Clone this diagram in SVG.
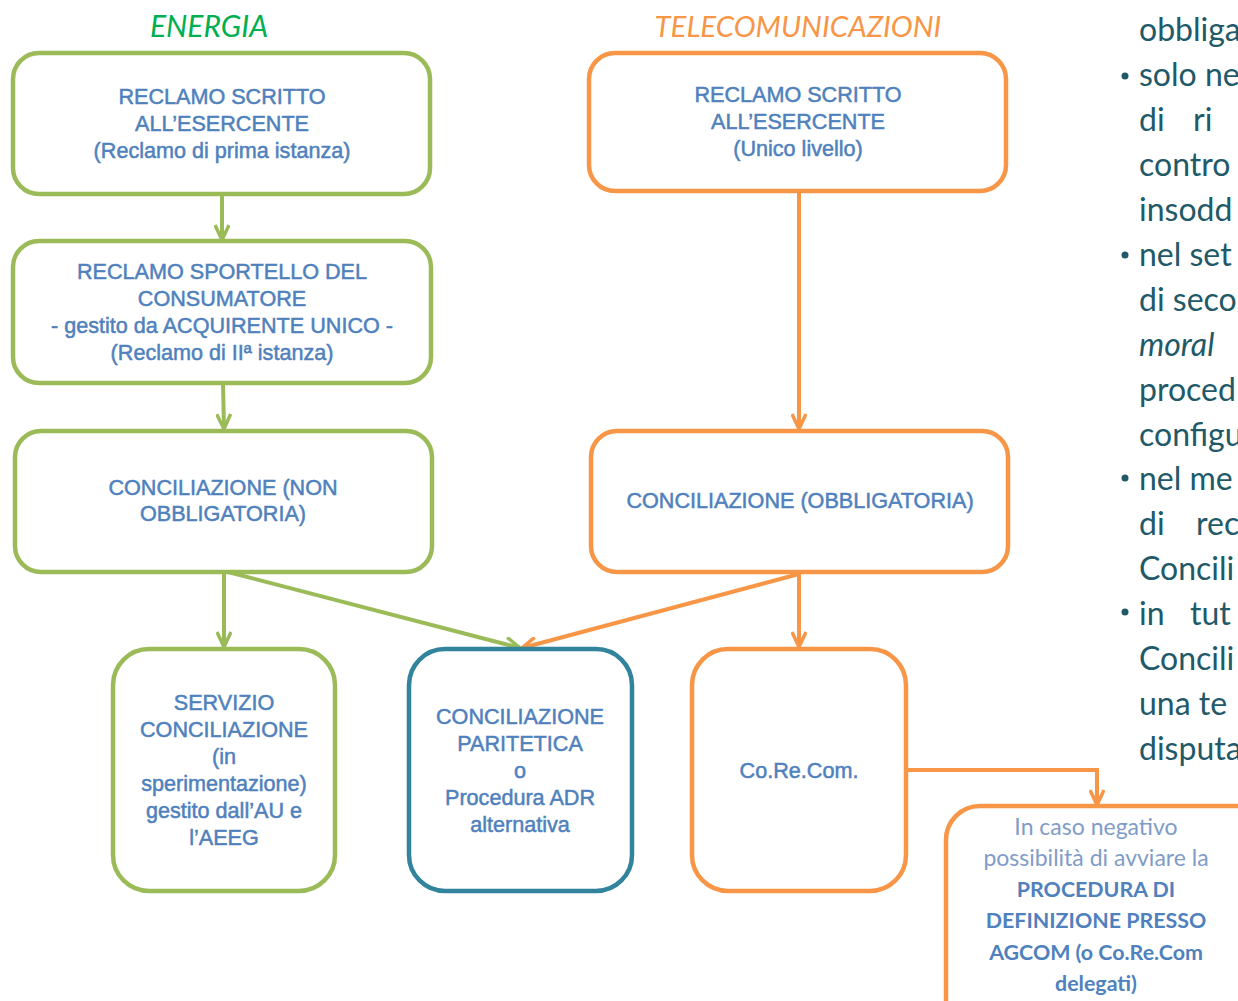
<svg xmlns="http://www.w3.org/2000/svg" width="1238" height="1001" viewBox="0 0 1238 1001">
<defs>
<style>
.g{fill:#fff;stroke:#9BBB59;stroke-width:4.5}
.o{fill:#fff;stroke:#F79646;stroke-width:4.5}
.t{fill:#fff;stroke:#31849B;stroke-width:4.5}
.bt{font-family:"Liberation Sans",Arial,sans-serif;font-size:21.6px;fill:#4F81BD;stroke:#4F81BD;stroke-width:0.5;text-anchor:middle}
.cg{stroke:#9BBB59;stroke-width:4;fill:none}
.co{stroke:#F79646;stroke-width:4;fill:none}
.side{font-family:Lato,"Open Sans",sans-serif;font-size:32px;fill:#215968}
.cal{font-family:Lato,"Open Sans",sans-serif;text-anchor:middle}
</style>
<marker id="ag" viewBox="0 0 20 16" refX="18" refY="8" markerWidth="20" markerHeight="16" markerUnits="userSpaceOnUse" orient="auto">
<path d="M3,1 L18,8 L3,15" fill="none" stroke="#9BBB59" stroke-width="3.5"/>
</marker>
<marker id="ao" viewBox="0 0 20 16" refX="18" refY="8" markerWidth="20" markerHeight="16" markerUnits="userSpaceOnUse" orient="auto">
<path d="M3,1 L18,8 L3,15" fill="none" stroke="#F79646" stroke-width="3.5"/>
</marker>
</defs>
<rect width="1238" height="1001" fill="#fff"/>

<text x="209" y="37" font-family="Lato,'Open Sans',sans-serif" font-style="italic" font-size="30" fill="#00B050" text-anchor="middle">ENERGIA</text>
<text x="798" y="37" font-family="Lato,'Open Sans',sans-serif" font-style="italic" font-size="29.4" fill="#F79646" text-anchor="middle">TELECOMUNICAZIONI</text>

<g id="connectors">
<path class="cg" d="M222,194 L222,240" marker-end="url(#ag)"/>
<path class="cg" d="M223,383 L224,429" marker-end="url(#ag)"/>
<path class="cg" d="M224,572 L224,647" marker-end="url(#ag)"/>
<path class="cg" d="M228,572 L520,648" marker-end="url(#ag)"/>
<path class="co" d="M799,191 L799,429" marker-end="url(#ao)"/>
<path class="co" d="M799,574 L522,648" marker-end="url(#ao)"/>
<path class="co" d="M799,574 L799,647" marker-end="url(#ao)"/>
<path class="co" d="M906,770 L1097,770 L1097,805" marker-end="url(#ao)"/>
</g>

<g id="e1">
<rect class="g" x="13" y="53" width="417" height="141" rx="26"/>
<text class="bt" x="222" y="104">RECLAMO SCRITTO</text>
<text class="bt" x="222" y="131">ALL’ESERCENTE</text>
<text class="bt" x="222" y="158">(Reclamo di prima istanza)</text>
</g>
<g id="e2">
<rect class="g" x="13" y="241" width="418" height="142" rx="26"/>
<text class="bt" x="222" y="279">RECLAMO SPORTELLO DEL</text>
<text class="bt" x="222" y="306">CONSUMATORE</text>
<text class="bt" x="222" y="333">- gestito da ACQUIRENTE UNICO -</text>
<text class="bt" x="222" y="360">(Reclamo di IIª istanza)</text>
</g>
<g id="e3">
<rect class="g" x="15" y="431" width="417" height="141" rx="26"/>
<text class="bt" x="223" y="495">CONCILIAZIONE (NON</text>
<text class="bt" x="223" y="521">OBBLIGATORIA)</text>
</g>
<g id="e4">
<rect class="g" x="113" y="649" width="222" height="242" rx="36"/>
<text class="bt" x="224" y="710">SERVIZIO</text>
<text class="bt" x="224" y="737">CONCILIAZIONE</text>
<text class="bt" x="224" y="764">(in</text>
<text class="bt" x="224" y="791">sperimentazione)</text>
<text class="bt" x="224" y="818">gestito dall’AU e</text>
<text class="bt" x="224" y="845">l’AEEG</text>
</g>
<g id="adr">
<rect class="t" x="409" y="649" width="223" height="242" rx="36"/>
<text class="bt" x="520" y="724">CONCILIAZIONE</text>
<text class="bt" x="520" y="751">PARITETICA</text>
<text class="bt" x="520" y="778">o</text>
<text class="bt" x="520" y="805">Procedura ADR</text>
<text class="bt" x="520" y="832">alternativa</text>
</g>
<g id="t1">
<rect class="o" x="589" y="53" width="417" height="138" rx="26"/>
<text class="bt" x="798" y="102">RECLAMO SCRITTO</text>
<text class="bt" x="798" y="129">ALL’ESERCENTE</text>
<text class="bt" x="798" y="156">(Unico livello)</text>
</g>
<g id="t2">
<rect class="o" x="591" y="431" width="417" height="141" rx="26"/>
<text class="bt" x="800" y="508">CONCILIAZIONE (OBBLIGATORIA)</text>
</g>
<g id="t3">
<rect class="o" x="692" y="649" width="214" height="242" rx="36"/>
<text class="bt" x="799" y="778">Co.Re.Com.</text>
</g>
<g id="t4">
<rect class="o" x="946" y="806" width="330" height="240" rx="34"/>
<text class="cal" x="1096" y="835" font-size="23" fill="#7F9CC8">In caso negativo</text>
<text class="cal" x="1096" y="866" font-size="23" fill="#7F9CC8">possibilità di avviare la</text>
<text class="cal" x="1096" y="897" font-size="21.4" font-weight="bold" fill="#4F81BD">PROCEDURA DI</text>
<text class="cal" x="1096" y="928" font-size="21.4" font-weight="bold" fill="#4F81BD">DEFINIZIONE PRESSO</text>
<text class="cal" x="1096" y="960" font-size="21.4" font-weight="bold" fill="#4F81BD">AGCOM (o Co.Re.Com</text>
<text class="cal" x="1096" y="991" font-size="21.4" font-weight="bold" fill="#4F81BD">delegati)</text>
</g>

<g id="sidetext" class="side">
<text x="1139" y="41">obbliga</text>
<circle cx="1125" cy="76" r="3.5" fill="#215968"/>
<text x="1139" y="86">solo ne</text>
<text x="1139" y="131">di<tspan x="1193">ri</tspan></text>
<text x="1139" y="176">contro</text>
<text x="1139" y="221">insodd</text>
<circle cx="1125" cy="255" r="3.5" fill="#215968"/>
<text x="1139" y="266">nel set</text>
<text x="1139" y="311">di seco</text>
<text x="1139" y="356" font-style="italic">moral</text>
<text x="1139" y="401">proced</text>
<text x="1139" y="446">configu</text>
<circle cx="1125" cy="478" r="3.5" fill="#215968"/>
<text x="1139" y="490">nel me</text>
<text x="1139" y="535">di<tspan x="1196">rec</tspan></text>
<text x="1139" y="580">Concili</text>
<circle cx="1125" cy="612" r="3.5" fill="#215968"/>
<text x="1139" y="625">in<tspan x="1190">tut</tspan></text>
<text x="1139" y="670">Concili</text>
<text x="1139" y="715">una te</text>
<text x="1139" y="760">disputa</text>
</g>
</svg>
